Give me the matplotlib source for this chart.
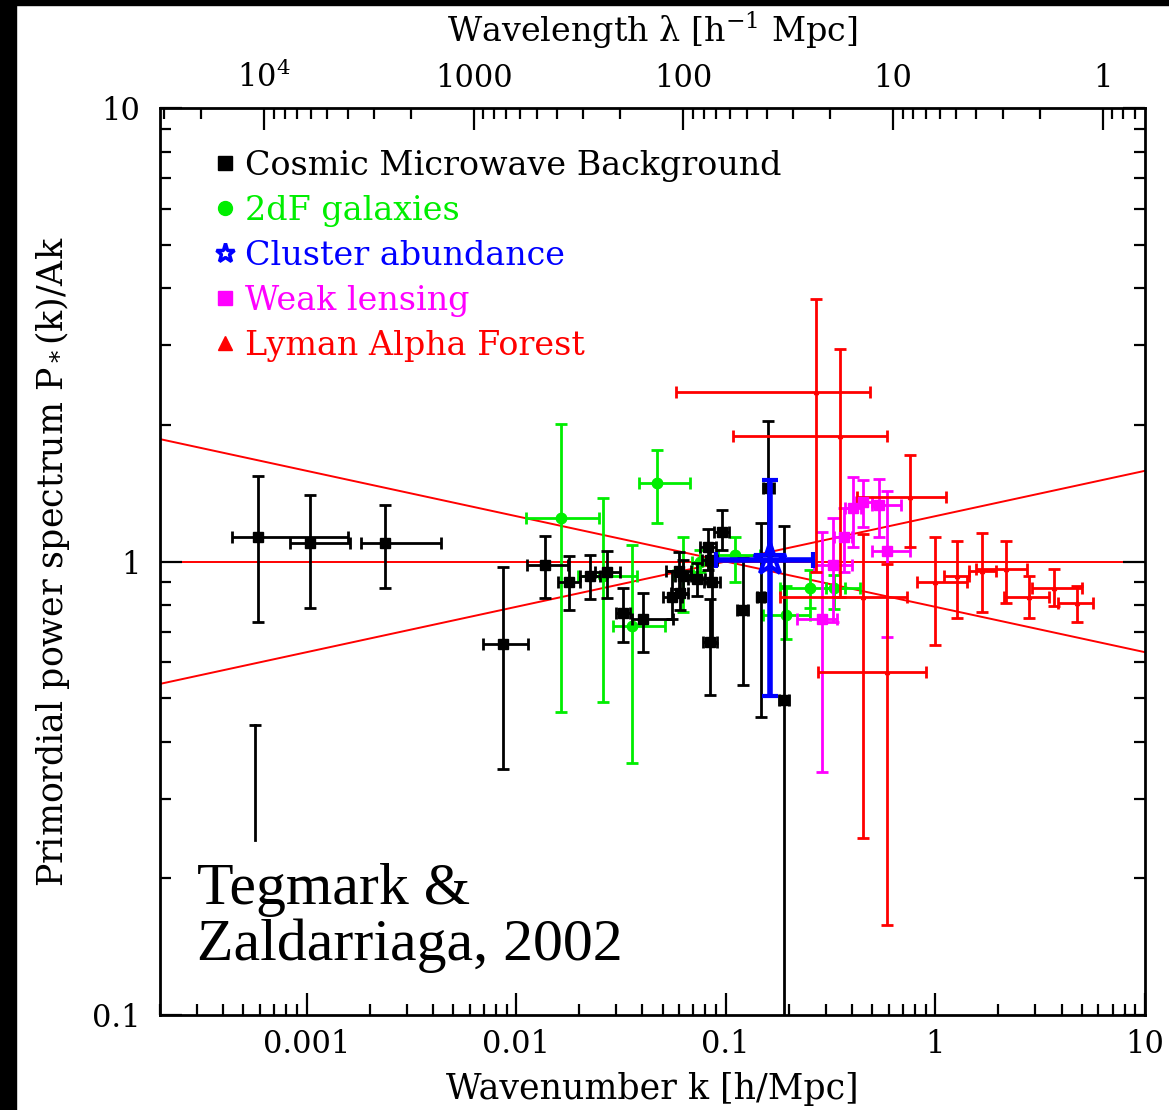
import numpy as np
import matplotlib
matplotlib.use("Agg")
import matplotlib.pyplot as plt
from matplotlib.lines import Line2D
from matplotlib.patches import Rectangle

plt.rcParams['font.family'] = ['DejaVu Serif']
plt.rcParams['mathtext.fontset'] = 'dejavuserif'

# --- data: k [h/Mpc], P/Ak, and error ranges ---
# Cosmic Microwave Background
cmb_k   = [5.9e-4, 1.04e-3, 2.38e-3, 8.67e-3, 0.01374, 0.0179, 0.0225, 0.0271, 0.0324, 0.0402,
           0.0554, 0.0597, 0.0604, 0.0624, 0.0727, 0.082, 0.0839, 0.0858, 0.0957, 0.0839,
           0.1205, 0.147, 0.1585, 0.189]
cmb_p   = [1.135, 1.096, 1.101, 0.659, 0.980, 0.903, 0.931, 0.946, 0.768, 0.745,
           0.837, 0.955, 0.854, 0.927, 0.913, 1.074, 1.010, 0.899, 1.159, 0.666,
           0.780, 0.837, 1.456, 0.494]
cmb_klo = [4.4e-4, 8.3e-4, 1.81e-3, 6.96e-3, 0.0113, 0.0158, 0.0202, 0.0238, 0.030, 0.0357,
           0.050, 0.052, 0.055, 0.057, 0.066, 0.075, 0.077, 0.079, 0.088, 0.078,
           0.113, 0.141, 0.150, 0.180]
cmb_khi = [1.57e-3, 1.62e-3, 4.4e-3, 0.0114, 0.0177, 0.0202, 0.0250, 0.0313, 0.035, 0.056,
           0.062, 0.068, 0.066, 0.068, 0.080, 0.090, 0.091, 0.094, 0.104, 0.091,
           0.128, 0.153, 0.170, 0.200]
cmb_plo = [0.734, 0.788, 0.876, 0.348, 0.829, 0.780, 0.825, 0.829, 0.666, 0.633,
           0.745, 0.870, 0.780, 0.850, 0.840, 0.960, 0.920, 0.660, 1.060, 0.509,
           0.535, 0.453, 1.036, 0.050]
cmb_phi = [1.54, 1.405, 1.329, 0.970, 1.141, 1.026, 1.036, 1.057, 0.872, 0.854,
           0.955, 1.050, 0.930, 1.010, 0.990, 1.180, 1.100, 0.980, 1.296, 0.825,
           1.020, 1.213, 2.036, 1.200]

# lone error-size bar, lower left
bar_k = 5.7e-4
bar_plo = 0.2437
bar_phi = 0.435

# 2dF galaxies
gal_k   = [0.0164, 0.0469, 0.0259, 0.0357, 0.0624, 0.1104, 0.193, 0.251, 0.330, 0.075]
gal_p   = [1.244, 1.486, 0.927, 0.719, 0.936, 1.036, 0.764, 0.876, 0.876, 1.000]
gal_klo = [0.01117, 0.0386, 0.0197, 0.029, 0.056, 0.0916, 0.150, 0.181, 0.300, 0.069]
gal_khi = [0.0248, 0.0674, 0.0377, 0.0513, 0.070, 0.145, 0.251, 0.435, 0.370, 0.082]
gal_plo = [0.465, 1.213, 0.491, 0.360, 0.772, 0.903, 0.676, 0.788, 0.784, 0.950]
gal_phi = [2.015, 1.757, 1.377, 1.085, 1.135, 1.135, 0.881, 0.960, 0.936, 1.060]

# Cluster abundance
clu_k, clu_p = [0.162], [1.01]
clu_klo, clu_khi = [0.0895], [0.260]
clu_plo, clu_phi = [0.504], [1.516]

# Weak lensing
wl_k   = [0.2866, 0.3234, 0.365, 0.403, 0.454, 0.541, 0.585]
wl_p   = [0.745, 0.980, 1.135, 1.315, 1.356, 1.329, 1.057]
wl_klo = [0.218, 0.265, 0.330, 0.370, 0.420, 0.501, 0.501]
wl_khi = [0.338, 0.398, 0.400, 0.440, 0.500, 0.689, 0.760]
wl_plo = [0.343, 0.734, 0.946, 1.079, 1.194, 1.135, 0.683]
wl_phi = [1.159, 1.244, 1.315, 1.532, 1.509, 1.524, 1.434]

# Lyman Alpha Forest
lya_k   = [0.2685, 0.349, 0.760, 0.454, 0.585, 1.00, 1.273, 1.675, 2.18, 2.80, 3.69, 4.74]
lya_p   = [2.359, 1.887, 1.391, 0.837, 0.572, 0.899, 0.927, 0.951, 0.965, 0.837, 0.876, 0.812]
lya_klo = [0.0578, 0.108, 0.421, 0.181, 0.274, 0.82, 1.10, 1.45, 1.566, 2.13, 2.90, 3.85]
lya_khi = [0.485, 0.590, 1.127, 0.736, 0.906, 1.41, 1.45, 1.95, 2.74, 3.49, 5.01, 5.65]
lya_plo = [0.950, 0.833, 1.074, 0.246, 0.158, 0.653, 0.749, 0.772, 0.812, 0.749, 0.796, 0.734]
lya_phi = [3.783, 2.935, 1.721, 1.150, 0.985, 1.135, 1.107, 1.153, 1.107, 0.931, 0.965, 0.881]

# scale-invariant reference and tilted spectra
pivot_k = 0.1
tilts = [0.0, -0.1, 0.1]


def errs(v, lo, hi):
    v, lo, hi = np.array(v), np.array(lo), np.array(hi)
    return [v - lo, hi - v]


fig = plt.figure(figsize=(11.69, 11.10), dpi=100)
ax = fig.add_axes([160/1169, 1 - 1015/1110, 985/1169, 907/1110])
ax.set_xscale('log')
ax.set_yscale('log')
ax.set_xlim(2e-4, 10)
ax.set_ylim(0.1, 10)

# red model lines
kk = np.logspace(np.log10(2e-4), 1, 50)
for t in tilts:
    ax.plot(kk, (kk / pivot_k) ** t, color='red', lw=1.4, zorder=1)

ekw = dict(linestyle='none', elinewidth=2.0, capsize=4.5, capthick=2.0)
ax.errorbar(gal_k, gal_p, xerr=errs(gal_k, gal_klo, gal_khi), yerr=errs(gal_p, gal_plo, gal_phi),
            marker='o', ms=7.5, color='#00ee00', zorder=2, **ekw)
ax.errorbar(cmb_k, cmb_p, xerr=errs(cmb_k, cmb_klo, cmb_khi), yerr=errs(cmb_p, cmb_plo, cmb_phi),
            marker='s', ms=7, color='black', zorder=3, **ekw)
ax.errorbar(wl_k, wl_p, xerr=errs(wl_k, wl_klo, wl_khi), yerr=errs(wl_p, wl_plo, wl_phi),
            marker='s', ms=6.5, color='#ff00ff', zorder=3, **ekw)
ax.errorbar(lya_k, lya_p, xerr=errs(lya_k, lya_klo, lya_khi), yerr=errs(lya_p, lya_plo, lya_phi),
            marker='^', ms=3, color='red', zorder=3, **ekw)
ax.errorbar(clu_k, clu_p, xerr=errs(clu_k, clu_klo, clu_khi), yerr=errs(clu_p, clu_plo, clu_phi),
            marker='*', ms=24, mfc='none', mec='blue', mew=3, color='blue',
            linestyle='none', elinewidth=4, capsize=6, capthick=4, zorder=4)

# lone bar with top cap
ax.plot([bar_k, bar_k], [bar_plo, bar_phi], color='black', lw=2.0)
ax.plot([bar_k], [bar_phi], marker='_', ms=9, mew=2.0, color='black')

# ticks
ax.set_xticks([1e-3, 1e-2, 0.1, 1, 10])
ax.set_xticklabels(['0.001', '0.01', '0.1', '1', '10'])
ax.set_yticks([0.1, 1, 10])
ax.set_yticklabels(['0.1', '1', '10'])
ax.tick_params(which='both', direction='in', right=True, top=False, labelsize=22, width=1.6)
ax.tick_params(axis='x', pad=10)
ax.tick_params(axis='y', pad=14)
ax.tick_params(which='major', length=16)
ax.tick_params(which='minor', length=8)
for s in ax.spines.values():
    s.set_linewidth(2)

sec = ax.secondary_xaxis('top', functions=(lambda k: 2 * np.pi / k, lambda l: 2 * np.pi / l))
sec.set_xticks([1e4, 1000, 100, 10, 1])
sec.set_xticklabels(['10$^4$', '1000', '100', '10', '1'])
sec.tick_params(which='both', direction='in', labelsize=22, width=1.6, pad=10)
sec.tick_params(which='major', length=16)
sec.tick_params(which='minor', length=8)
sec.set_xlabel('Wavelength \u03bb [h$^{-1}$ Mpc]', fontsize=24, labelpad=14)

ax.set_xlabel('Wavenumber k [h/Mpc]', fontsize=25, labelpad=9)
ax.set_ylabel('Primordial power spectrum P$_*$(k)/Ak', fontsize=25, labelpad=14)

# legend
names = ['Cosmic Microwave Background', '2dF galaxies', 'Cluster abundance',
         'Weak lensing', 'Lyman Alpha Forest']
cols = ['black', '#00ee00', 'blue', '#ff00ff', 'red']
marks = ['s', 'o', '*', 's', '^']
handles = []
for c, m in zip(cols, marks):
    if m == '*':
        handles.append(Line2D([], [], ls='none', marker=m, ms=14, mfc='none', mec=c, mew=2.5))
    else:
        handles.append(Line2D([], [], ls='none', marker=m, ms=10, color=c))
ax.legend(handles, names, labelcolor=cols, loc='upper left', bbox_to_anchor=(0.056, 0.954),
          frameon=False, fontsize=24, handlelength=0.6, handletextpad=0.3,
          labelspacing=0.39, borderpad=0, borderaxespad=0)

ax.text(0.038, 0.168, 'Tegmark &\nZaldarriaga, 2002', transform=ax.transAxes,
        family='Liberation Serif', fontsize=43, va='top', ha='left', linespacing=1.05)

# black frame strips on left and top
fig.patches.append(Rectangle((0, 0), 16/1169, 1, transform=fig.transFigure, color='black'))
fig.patches.append(Rectangle((0, 1 - 5/1110), 1, 5/1110, transform=fig.transFigure, color='black'))

fig.savefig('out.png', dpi=100)
